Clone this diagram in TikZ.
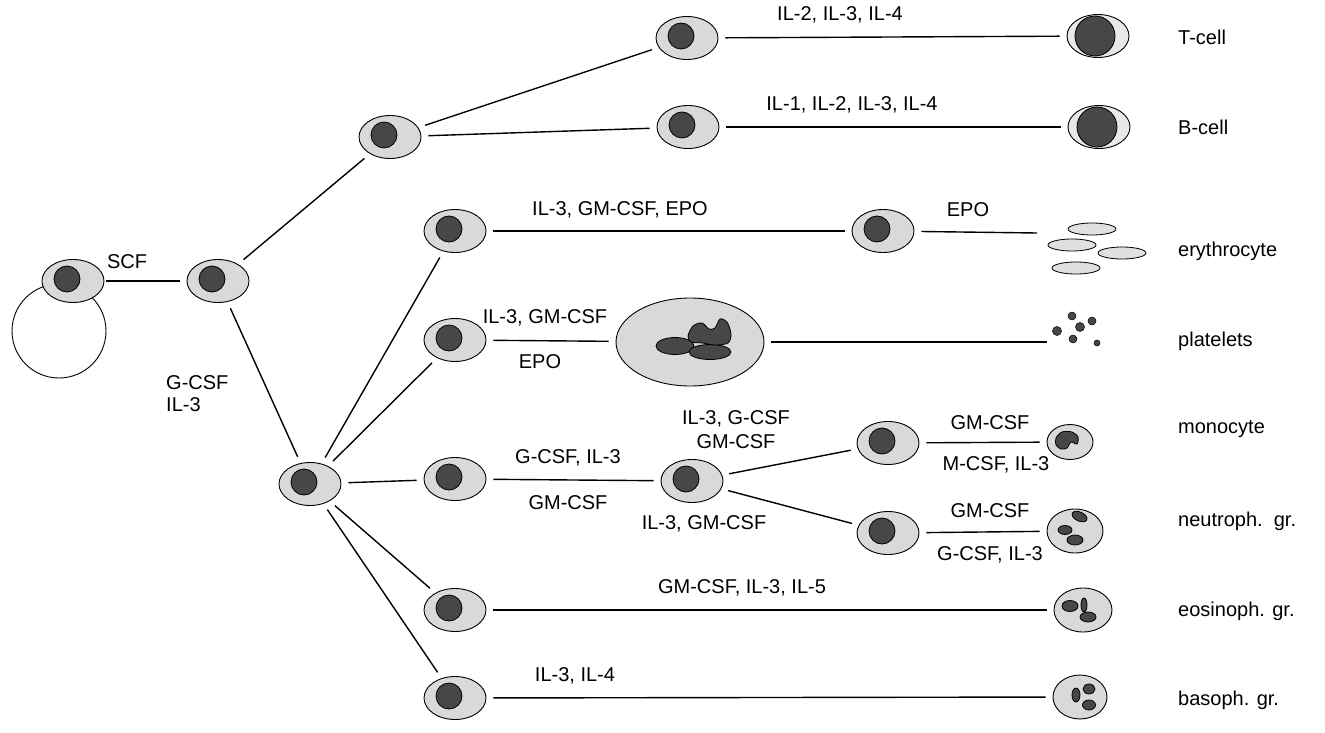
\documentclass[tikz,border=0pt]{standalone}
\usepackage{fontspec}
\setmainfont{Liberation Sans}
\usetikzlibrary{shapes.geometric}
\definecolor{cyto}{gray}{0.85}
\definecolor{nucl}{gray}{0.28}
\begin{document}
\begin{tikzpicture}[x=1pt,y=-1pt,
  every node/.style={font=\fontsize{20}{23}\selectfont},
  cell/.style={ellipse, draw=black, line width=0.9pt, fill=cyto,
    minimum width=62pt, minimum height=43pt, inner sep=0pt},
  nuc/.style={fill=nucl, draw=black, line width=0.8pt},
  link/.style={line width=1.4pt, shorten <=7pt, shorten >=7pt},
  lbl/.style={inner sep=1pt},
  cellname/.style={anchor=west, inner sep=0pt},
  rbc/.style={fill=cyto!80, draw=black, line width=0.8pt}
]
\newcommand\blast[2]{%
  \node[cell] (#1) at (#2) {};
  \draw[nuc] ([xshift=-6pt,yshift=2pt]#1.center) circle (13pt);}
\useasboundingbox (0,0) rectangle (1325,733);

% stem cell with its self-renewal circle
\draw[line width=0.9pt, fill=white] (59,331) circle (47pt);
\blast{S}{73,281}
\blast{P1}{218,281}
\blast{L}{390,137}
\blast{M}{310,484}

% lymphoid branch
\blast{Tpre}{687,38}
\blast{Bpre}{688,127}
\node[cell, fill=cyto!60] (Tcell) at (1098,36) {};
\draw[nuc] ([xshift=-3pt]Tcell.center) circle (20pt);
\node[cell, fill=cyto!60] (Bcell) at (1099,127) {};
\draw[nuc] ([xshift=-2pt]Bcell.center) circle (20pt);

% myeloid precursors
\blast{Epre}{455,231}
\blast{E2}{883,231}
\blast{Mkpre}{455,340}
\blast{Gpre}{455,479}
\blast{GM}{692,481}
\blast{MoPre}{888,443}
\blast{NePre}{888,533}
\blast{EoPre}{455,610}
\blast{BaPre}{455,698}

% megakaryocyte
\node[cell, minimum width=148pt, minimum height=88pt] (Mk) at (690,342) {};
\begin{scope}[shift={(690,342)}]
  \draw[nuc] (-15,4) ellipse (19pt and 8.5pt);
  \draw[nuc] (20,10) ellipse (21pt and 7.5pt);
  \draw[nuc] plot[smooth cycle] coordinates {(-2,-6) (3,-16) (12,-19) (19,-13)
    (25,-14) (30,-23) (37,-20) (41,-8) (38,1) (25,3) (12,1) (1,0)};
\end{scope}

% erythrocytes
\draw[rbc] (1092,229) ellipse (24pt and 6pt);
\draw[rbc] (1072,245) ellipse (24pt and 6pt);
\draw[rbc] (1122,253) ellipse (24pt and 6pt);
\draw[rbc] (1076,268) ellipse (24pt and 6pt);
\coordinate (ery) at (1037,233);

% platelets
\foreach \p/\r in {{1072,316}/4, {1092,321}/4, {1057,331}/4.5, {1080,327}/4.5, {1073,339}/4, {1097,343}/3}
  \draw[nuc, line width=0.5pt] (\p) circle (\r pt);
\coordinate (plt) at (1047,342);

% monocyte
\node[cell, minimum width=46pt, minimum height=35pt] (Mono) at (1070,442) {};
\begin{scope}[shift={(1068,441)}]
  \draw[nuc] plot[smooth cycle] coordinates {(-12,-3) (-6,-9) (4,-9) (10,-4)
    (9,3) (3,1) (-1,7) (-7,8) (-12,4)};
\end{scope}

% neutrophil
\node[cell, minimum width=56pt, minimum height=44pt] (Neut) at (1075,531) {};
\begin{scope}[shift={(1075,531)}]
  \draw[nuc, rotate=-25] (-2,-15) ellipse (8pt and 4.5pt);
  \draw[nuc] (-10,-1) ellipse (7pt and 4.5pt);
  \draw[nuc] (0,9) ellipse (8pt and 5pt);
\end{scope}

% eosinophil
\node[cell, minimum width=58pt, minimum height=44pt] (Eo) at (1083,610) {};
\begin{scope}[shift={(1083,610)}]
  \draw[nuc] (-13,-4) ellipse (8pt and 5.5pt);
  \draw[nuc] (1,-5) ellipse (3pt and 7pt);
  \draw[nuc] (5,7) ellipse (8pt and 5pt);
\end{scope}

% basophil
\node[cell, minimum width=54pt, minimum height=44pt] (Ba) at (1080,697) {};
\begin{scope}[shift={(1080,697)}]
  \draw[nuc] (-4,-2) ellipse (4pt and 7pt);
  \draw[nuc] (9,-8) ellipse (6pt and 5pt);
  \draw[nuc] (9,8) ellipse (6.5pt and 5pt);
\end{scope}

% connectors
\draw[link, shorten <=2pt] (S) -- (P1);
\draw[link] (P1) -- (L);
\draw[link] (P1) -- (M);
\draw[link] (L) -- (Tpre);
\draw[link] (L) -- (Bpre);
\draw[link] (Tpre) -- (Tcell);
\draw[link] (Bpre) -- (Bcell);
\draw[link] (M) -- (Epre);
\draw[link] (M) -- (Mkpre);
\draw[link] (M) -- (Gpre);
\draw[link] (M) -- (EoPre);
\draw[link] (M) -- (BaPre);
\draw[link] (Epre) -- (E2);
\draw[link, shorten >=0pt] (E2) -- (ery);
\draw[link] (Mkpre) -- (Mk);
\draw[link, shorten >=0pt] (Mk) -- (plt);
\draw[link] (Gpre) -- (GM);
\draw[link] (GM) -- (MoPre);
\draw[link] (GM) -- (NePre);
\draw[link] (MoPre) -- (Mono);
\draw[link] (NePre) -- (Neut);
\draw[link] (EoPre) -- (Eo);
\draw[link] (BaPre) -- (Ba);

% growth factor labels
\node[lbl] (tSCF) at (127,262) {SCF};
\node[lbl, anchor=west] (tGCSF) at (165,383) {G-CSF};
\node[lbl, anchor=west] (tIL3) at (165,405) {IL-3};
\node[lbl] (tT) at (840,15) {IL-2, IL-3, IL-4};
\node[lbl] (tB) at (852,105) {IL-1, IL-2, IL-3, IL-4};
\node[lbl] (tE1) at (620,210) {IL-3, GM-CSF, EPO};
\node[lbl] (tE2) at (968,210) {EPO};
\node[lbl] (tMk1) at (545,318) {IL-3, GM-CSF};
\node[lbl] (tMk2) at (540,362) {EPO};
\node[lbl] (tG1) at (568,458) {G-CSF, IL-3};
\node[lbl] (tG2) at (568,503) {GM-CSF};
\node[lbl] (tGM1) at (736,419) {IL-3, G-CSF};
\node[lbl] (tGM2) at (736,442) {GM-CSF};
\node[lbl] (tGM3) at (704,524) {IL-3, GM-CSF};
\node[lbl] (tMo1) at (990,423) {GM-CSF};
\node[lbl] (tMo2) at (996,465) {M-CSF, IL-3};
\node[lbl] (tNe1) at (990,511) {GM-CSF};
\node[lbl] (tNe2) at (990,555) {G-CSF, IL-3};
\node[lbl] (tEo) at (742,588) {GM-CSF, IL-3, IL-5};
\node[lbl] (tBa) at (575,676) {IL-3, IL-4};

% cell type names
\node[cellname] at (1178,37) {T-cell};
\node[cellname] at (1178,127) {B-cell};
\node[cellname] at (1178,251) {erythrocyte};
\node[cellname] at (1178,341) {platelets};
\node[cellname] at (1178,429) {monocyte};
\node[cellname] at (1178,521) {neutroph.\ \ gr.};
\node[cellname] at (1178,611) {eosinoph. gr.};
\node[cellname] at (1178,700) {basoph. gr.};
\end{tikzpicture}
\end{document}
